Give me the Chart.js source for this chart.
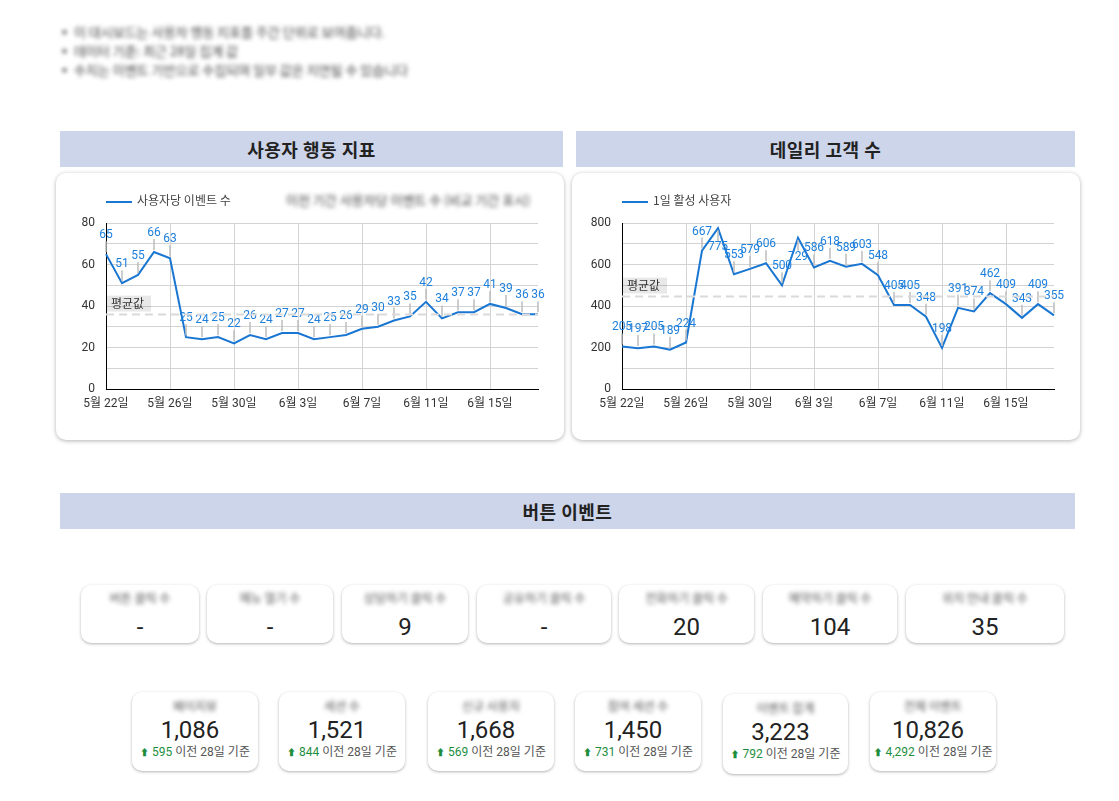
<!DOCTYPE html>
<html><head><meta charset="utf-8">
<script src="https://cdn.jsdelivr.net/npm/chart.js@4.4.1/dist/chart.umd.min.js"></script>
<style>
body{margin:0;background:#fff;font-family:Roboto,'Noto Sans CJK KR',sans-serif;width:1119px;height:801px;position:relative;overflow:hidden}
.blur{position:absolute;filter:blur(2px);color:#444;white-space:nowrap;font-size:13px;font-family:'Noto Sans CJK KR',sans-serif}
.hdr{position:absolute;background:#cdd5ea;height:36px;line-height:36px;text-align:center;font-weight:bold;font-size:18px;letter-spacing:0.5px;color:#222;font-family:'Noto Sans CJK KR',sans-serif}
.card{position:absolute;background:#fff;border-radius:10px;box-shadow:0 1px 4px rgba(0,0,0,.3)}
.legend{position:absolute;font-size:12px;color:#444;font-family:'Noto Sans CJK KR',sans-serif;white-space:nowrap}
.legend i{display:inline-block;width:26px;height:2px;background:#1976d2;vertical-align:middle;margin-right:5px}
.sc{position:absolute;background:#fff;border-radius:10px;box-shadow:0 1px 3px rgba(0,0,0,.3);text-align:center}
.sc .v{position:absolute;left:0;right:0;font-size:24px;color:#222;line-height:28px}
.sc .lb{position:absolute;left:0;right:0;font-size:12px;color:#555;filter:blur(2px);white-space:nowrap;font-family:'Noto Sans CJK KR',sans-serif}
.sc .d{position:absolute;left:0;right:0;font-size:12px;color:#555;white-space:nowrap;line-height:14px}
.sc .d b{font-weight:normal;color:#1e8e3e}
.sc .d s{text-decoration:none;color:#1e8e3e;font-size:9px}
</style></head><body>

<div class="blur" style="left:58px;top:22px">▪ 이 대시보드는 사용자 행동 지표를 주간 단위로 보여줍니다.</div>
<div class="blur" style="left:58px;top:41px">▪ 데이터 기준: 최근 28일 집계 값</div>
<div class="blur" style="left:58px;top:60px">▪ 수치는 이벤트 기반으로 수집되며 일부 값은 지연될 수 있습니다</div>

<div class="hdr" style="left:60px;top:131px;width:503px">사용자 행동 지표</div>
<div class="hdr" style="left:576px;top:131px;width:499px">데일리 고객 수</div>

<div class="card" style="left:56px;top:173px;width:508px;height:267px"><canvas id="c1" width="508" height="267"></canvas></div>
<div class="card" style="left:572px;top:173px;width:508px;height:267px"><canvas id="c2" width="508" height="267"></canvas></div>

<div class="legend" style="left:106px;top:191px"><i></i>사용자당 이벤트 수</div>
<div class="blur" style="left:286px;top:190px;font-size:13px">이전 기간 사용자당 이벤트 수 (비교 기간 표시)</div>
<div class="legend" style="left:622px;top:191px"><i></i>1일 활성 사용자</div>

<div class="hdr" style="left:60px;top:493px;width:1015px">버튼 이벤트</div>

<div id="row1"></div>
<div id="row2"></div>

<script>
// ---- data ----
const dates = ['5월 22일','5월 23일','5월 24일','5월 25일','5월 26일','5월 27일','5월 28일','5월 29일','5월 30일','5월 31일','6월 1일','6월 2일','6월 3일','6월 4일','6월 5일','6월 6일','6월 7일','6월 8일','6월 9일','6월 10일','6월 11일','6월 12일','6월 13일','6월 14일','6월 15일','6월 16일','6월 17일','6월 18일'];
const eventsPerUser = [65,51,55,66,63,25,24,25,22,26,24,27,27,24,25,26,29,30,33,35,42,34,37,37,41,39,36,36];
const dailyActiveUsers = [205,197,205,189,224,667,775,553,579,606,500,729,586,618,589,603,548,405,405,348,198,391,374,462,409,343,409,355];
const scoreLabels1 = ['버튼 클릭 수','메뉴 열기 수','상담하기 클릭 수','공유하기 클릭 수','전화하기 클릭 수','예약하기 클릭 수','위치 안내 클릭 수'];
const scoreValues1 = ['-','-','9','-','20','104','35'];
const scoreLabels2 = ['페이지뷰','세션 수','신규 사용자','참여 세션 수','이벤트 합계','전체 이벤트'];
const scoreValues2 = [1086,1521,1668,1450,3223,10826];
const scoreDeltas2 = [595,844,569,731,792,4292];

// ---- layout (positions only) ----
const row1Boxes = [[81,585,118,58],[207,585,126,58],[342,585,126,58],[477,585,134,58],[619,585,135,58],[763,585,134,58],[906,585,158,58]];
const row2Boxes = [[132,692,126,79],[279,692,126,79],[428,692,126,79],[575,692,126,79],[723,694,125,80],[870,692,126,79]];

const fmt = n => n.toLocaleString('en-US');
const r1 = document.getElementById('row1');
scoreValues1.forEach((v,i)=>{
  const [x,y,w,h]=row1Boxes[i];
  const d=document.createElement('div');d.className='sc';
  d.style.cssText=`left:${x}px;top:${y}px;width:${w}px;height:${h}px`;
  d.innerHTML=`<div class="lb" style="top:4px">${scoreLabels1[i]}</div><div class="v" style="top:28px">${v}</div>`;
  r1.appendChild(d);
});
const r2 = document.getElementById('row2');
scoreValues2.forEach((v,i)=>{
  const [x,y,w,h]=row2Boxes[i];
  const d=document.createElement('div');d.className='sc';
  d.style.cssText=`left:${x}px;top:${y}px;width:${w}px;height:${h}px`;
  d.innerHTML=`<div class="lb" style="top:5px">${scoreLabels2[i]}</div><div class="v" style="top:24px;padding-right:10px">${fmt(v)}</div><div class="d" style="top:53px"><s>⬆</s> <b>${fmt(scoreDeltas2[i])}</b> 이전 28일 기준</div>`;
  r2.appendChild(d);
});

// ---- charts ----
const FONT = "Roboto, 'Noto Sans CJK KR', sans-serif";
const LINE = '#1976d2', LABEL = '#1e80dc';

const labelPlugin = {
  id:'pointLabels',
  afterDatasetsDraw(chart){
    const ctx=chart.ctx, meta=chart.getDatasetMeta(0), data=chart.data.datasets[0].data, a=chart.chartArea;
    ctx.save();
    const below = meta.data.map(pt => (pt.y-25) < a.top);
    meta.data.forEach((pt,i)=>{
      const s = below[i] ? 1 : -1;
      ctx.strokeStyle='#bdbdbd';ctx.lineWidth=1.5;
      ctx.beginPath();ctx.moveTo(pt.x,pt.y+2*s);ctx.lineTo(pt.x,pt.y+13*s);ctx.stroke();
    });
    ctx.font='12px '+FONT;ctx.fillStyle=LABEL;ctx.textAlign='center';ctx.textBaseline='middle';
    meta.data.forEach((pt,i)=>{ ctx.fillText(String(data[i]),pt.x,pt.y+(below[i]?19:-19)); });
    // average line
    const avg=data.reduce((p,q)=>p+q,0)/data.length;
    const y=chart.scales.y.getPixelForValue(avg);
    ctx.strokeStyle='#dadada';ctx.lineWidth=2;ctx.setLineDash([8,5]);
    ctx.beginPath();ctx.moveTo(a.left,y);ctx.lineTo(a.right,y);ctx.stroke();
    ctx.setLineDash([]);
    ctx.fillStyle='rgba(0,0,0,0.09)';ctx.fillRect(a.left+1,y-19,44,16);
    ctx.fillStyle='#333';ctx.textAlign='left';ctx.font="12px 'Noto Sans CJK KR', sans-serif";
    ctx.fillText('평균값',a.left+5,y-11);
    ctx.restore();
  }
};

function makeChart(id, values, max, step){
  new Chart(document.getElementById(id),{
    type:'line',
    data:{labels:dates,datasets:[{data:values,borderColor:LINE,borderWidth:2,pointRadius:0,tension:0,fill:false}]},
    options:{
      responsive:false,animation:false,
      layout:{padding:{top:50,right:26,bottom:21,left:0}},
      plugins:{legend:{display:false},tooltip:{enabled:false}},
      scales:{
        x:{offset:false,
          grid:{drawTicks:false,color:c=>(c.index%4===0&&c.index>0)?'#d3d3d3':'rgba(0,0,0,0)',lineWidth:1},
          border:{color:'#000',width:1},
          ticks:{autoSkip:false,maxRotation:0,padding:8,color:'#333',font:{family:FONT,size:12},
            callback:function(v,i){return i%4===0?this.getLabelForValue(v):'';}},
          afterFit:s=>{s.height=30;}
        },
        y:{min:0,max:max,
          grid:{drawTicks:false,color:'#d3d3d3'},
          border:{color:'#000',width:1},
          ticks:{stepSize:step/2,padding:11,color:'#333',font:{family:FONT,size:12},
            callback:v=>(v%step===0?String(v):'')},
          afterFit:s=>{s.width=50;}
        }
      }
    },
    plugins:[labelPlugin]
  });
}
makeChart('c1', eventsPerUser, 80, 20);
makeChart('c2', dailyActiveUsers, 800, 200);
</script>
</body></html>
